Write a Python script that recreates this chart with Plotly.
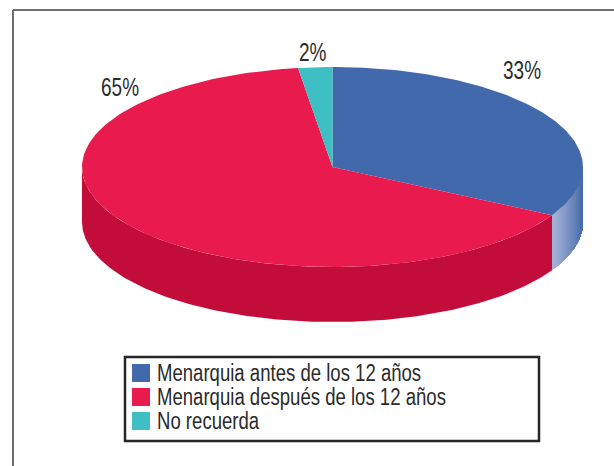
import numpy as np
import plotly.graph_objects as go

categories = ["Menarquia antes de los 12 años", "Menarquia después de los 12 años", "No recuerda"]
values = [33, 64.8, 2.2]
pct_labels = ["33%", "65%", "2%"]
colors = ["#4169ac", "#e91a4d", "#3dbfc4"]
side_colors = [None, "#c20c3a", None]

W, H = 614, 466
CX, CY, RX, RY, DEPTH = 332.5, 167, 250.5, 100, 55
FONT = "Liberation Sans"
INK = "#2b2b2b"

fig = go.Figure()


def pt(theta, dy=0):
    return CX + RX * np.sin(theta), CY - RY * np.cos(theta) + dy


def add_poly(x, y, color):
    fig.add_trace(go.Scatter(x=list(x), y=list(y), mode="lines", fill="toself", fillcolor=color,
                             line=dict(color=color, width=0), hoverinfo="skip", showlegend=False))


frac = np.cumsum([0] + values) / sum(values) * 2 * np.pi

# side wall: blue portion with a gradient (each strip overpaints the rest, so no seams)
t_start, t_end = np.pi / 2, frac[1]
n = 40
light = np.array([163, 177, 215])
dark = np.array([66, 104, 168])
edges = np.linspace(0, 1, n, endpoint=False)
x_end, _ = pt(t_end)
x_tip, _ = pt(t_start)
for i, u in enumerate(edges):
    # strips are even in screen x, as the reference gradient is
    a = np.arcsin(np.clip((x_end + (x_tip - x_end) * u - CX) / RX, -1, 1))
    a = np.pi - a
    c = light + (dark - light) * u ** 1.3
    col = "rgb(%d,%d,%d)" % tuple(c)
    ts = np.linspace(a, t_start, 40)
    xt, yt = pt(ts)
    xb, yb = pt(ts, DEPTH)
    add_poly(np.r_[xt, xb[::-1]], np.r_[yt, yb[::-1]], col)

# side wall: red portion
ts = np.linspace(frac[1], 3 * np.pi / 2, 150)
xt, yt = pt(ts)
xb, yb = pt(ts, DEPTH)
add_poly(np.r_[xt, xb[::-1]], np.r_[yt, yb[::-1]], side_colors[1])

# top wedges
for i, c in enumerate(colors):
    ts = np.linspace(frac[i], frac[i + 1], 200)
    x, y = pt(ts)
    add_poly(np.r_[CX, x, CX], np.r_[CY, y, CY], c)

shapes = [
    dict(type="line", x0=13, x1=W, y0=10, y1=10, line=dict(color="#6e6e6e", width=2)),
    dict(type="line", x0=13, x1=13, y0=10, y1=H, line=dict(color="#6e6e6e", width=2)),
    dict(type="rect", x0=125, x1=539, y0=357, y1=441, line=dict(color="#262626", width=2.5), fillcolor="white"),
]
annotations = []
for (x, y), t in zip([(522, 70), (119.5, 87), (313, 52)], pct_labels):
    annotations.append(dict(x=x, y=y, text=t, showarrow=False, xanchor="center", yanchor="middle",
                            font=dict(family=FONT, size=26, color=INK)))
for i, (name, c) in enumerate(zip(categories, colors)):
    top = 364 + 24 * i
    shapes.append(dict(type="rect", x0=132, x1=150, y0=top, y1=top + 18, line=dict(width=0), fillcolor=c))
    annotations.append(dict(x=155, y=top + 9, text=name, showarrow=False, xanchor="left", yanchor="middle",
                            font=dict(family=FONT, size=23, color=INK)))

fig.update_layout(
    width=W, height=H, margin=dict(l=0, r=0, t=0, b=0),
    paper_bgcolor="white", plot_bgcolor="white", showlegend=False,
    xaxis=dict(range=[0, W], visible=False, fixedrange=True),
    yaxis=dict(range=[H, 0], visible=False, fixedrange=True),
    shapes=shapes, annotations=annotations,
)

# the original face is condensed and no condensed face is installed: narrow the real text
post = """
document.body.style.margin='0';document.body.style.overflow='hidden';
document.querySelectorAll('.annotation-text').forEach(function(el,i){
  var s = i<3 ? 0.73 : 0.807;
  var w = el.getComputedTextLength();
  el.setAttribute('lengthAdjust','spacingAndGlyphs');
  el.setAttribute('textLength', w*s);
  if(i>=3){ el.setAttribute('transform','translate('+(-(w-w*s)/2)+',0)'); }
});
"""
fig.write_html("out.html", config=dict(displayModeBar=False), post_script=post)
